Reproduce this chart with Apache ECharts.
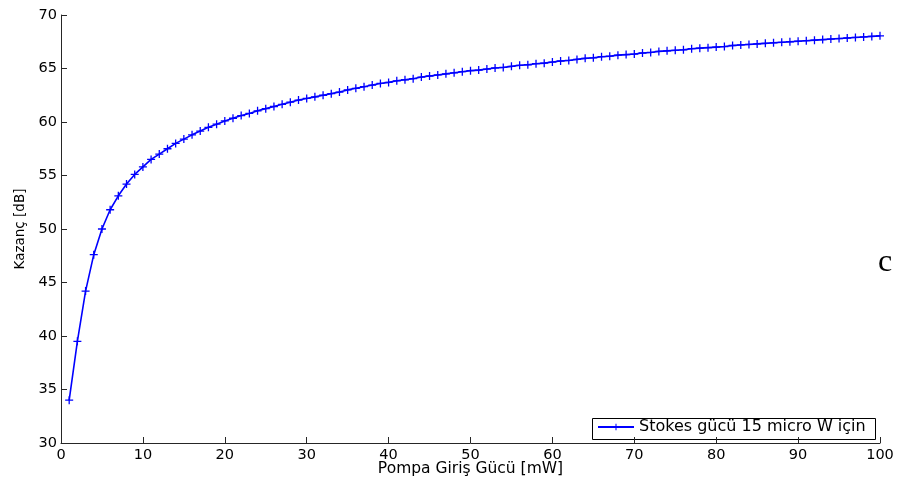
<!DOCTYPE html>
<html>
<head>
<meta charset="utf-8">
<title>Kazanç - Pompa Giriş Gücü</title>
<script src="https://cdn.jsdelivr.net/npm/echarts@6/dist/echarts.min.js"></script>
<style>
  html, body { margin: 0; padding: 0; background: #fff; }
  #chart { width: 902px; height: 482px; }
</style>
</head>
<body>
<div id="chart"></div>
<script>
// Pump input power [mW]
const pumpPower = [
  1, 2, 3, 4, 5, 6, 7, 8, 9, 10,
  11, 12, 13, 14, 15, 16, 17, 18, 19, 20,
  21, 22, 23, 24, 25, 26, 27, 28, 29, 30,
  31, 32, 33, 34, 35, 36, 37, 38, 39, 40,
  41, 42, 43, 44, 45, 46, 47, 48, 49, 50,
  51, 52, 53, 54, 55, 56, 57, 58, 59, 60,
  61, 62, 63, 64, 65, 66, 67, 68, 69, 70,
  71, 72, 73, 74, 75, 76, 77, 78, 79, 80,
  81, 82, 83, 84, 85, 86, 87, 88, 89, 90,
  91, 92, 93, 94, 95, 96, 97, 98, 99, 100
];

// Gain [dB] for a 15 µW Stokes input
const gainDb = [
  34.0, 39.5, 44.2, 47.6, 50.0, 51.8, 53.1, 54.2, 55.1, 55.8,
  56.5, 57.0, 57.5, 58.0, 58.4, 58.8, 59.15, 59.5, 59.8, 60.1,
  60.35, 60.6, 60.8, 61.05, 61.25, 61.45, 61.65, 61.85, 62.05, 62.2,
  62.35, 62.5, 62.65, 62.8, 63.0, 63.15, 63.3, 63.45, 63.6, 63.7,
  63.85, 63.95, 64.05, 64.2, 64.3, 64.4, 64.5, 64.6, 64.7, 64.8,
  64.85, 64.95, 65.05, 65.1, 65.2, 65.3, 65.35, 65.45, 65.5, 65.6,
  65.7, 65.75, 65.85, 65.95, 66.0, 66.1, 66.15, 66.25, 66.3, 66.35,
  66.45, 66.5, 66.6, 66.65, 66.7, 66.75, 66.85, 66.9, 66.95, 67.0,
  67.05, 67.15, 67.2, 67.25, 67.3, 67.35, 67.4, 67.45, 67.5, 67.55,
  67.6, 67.65, 67.7, 67.75, 67.8, 67.85, 67.9, 67.95, 68.0, 68.05
];

const seriesName = 'Stokes gücü 15 micro W için';
const xTicks = [0, 10, 20, 30, 40, 50, 60, 70, 80, 90, 100];
const yTicks = [30, 35, 40, 45, 50, 55, 60, 65, 70];

const fontFamily = '"DejaVu Sans", Verdana, sans-serif';
const axisColor = '#262626';
// thin "+" marker
const plusPath = 'path://M4.2,0h1.6v4.2h4.2v1.6h-4.2v4.2h-1.6v-4.2h-4.2v-1.6h4.2z';

const chart = echarts.init(document.getElementById('chart'), null, { renderer: 'canvas' });

chart.setOption({
  backgroundColor: '#ffffff',
  animation: false,
  grid: { left: 61, right: 22, top: 15, bottom: 39, containLabel: false, outerBoundsMode: 'none' },
  xAxis: {
    type: 'value',
    min: xTicks[0],
    max: xTicks[xTicks.length - 1],
    interval: xTicks[1] - xTicks[0],
    name: 'Pompa Giriş Gücü [mW]',
    nameLocation: 'middle',
    nameGap: 18,
    nameMoveOverlap: false,
    nameTextStyle: { fontFamily, fontSize: 15.5, color: '#000', verticalAlign: 'top' },
    axisLine: { show: true, lineStyle: { color: axisColor, width: 1 } },
    axisTick: { show: true, inside: true, length: 6, lineStyle: { color: axisColor } },
    axisLabel: { fontFamily, fontSize: 14.5, color: '#000', margin: 5 },
    splitLine: { show: false }
  },
  yAxis: {
    type: 'value',
    min: yTicks[0],
    max: yTicks[yTicks.length - 1],
    interval: yTicks[1] - yTicks[0],
    name: 'Kazanç [dB]',
    nameLocation: 'middle',
    nameGap: 34,
    nameMoveOverlap: false,
    nameRotate: 90,
    nameTextStyle: { fontFamily, fontSize: 13.5, color: '#000' },
    axisLine: { show: true, lineStyle: { color: axisColor, width: 1 } },
    axisTick: { show: true, inside: true, length: 6, lineStyle: { color: axisColor } },
    axisLabel: { fontFamily, fontSize: 14.5, color: '#000', margin: 4 },
    splitLine: { show: false }
  },
  legend: {
    show: true,
    left: 597,
    top: 419,
    orient: 'horizontal',
    padding: 0,
    itemWidth: 36,
    itemHeight: 8,
    itemGap: 4,
    textStyle: { fontFamily, fontSize: 16, color: '#000' },
    data: [seriesName]
  },
  series: [{
    name: seriesName,
    type: 'line',
    data: pumpPower.map((p, i) => [p, gainDb[i]]),
    symbol: plusPath,
    symbolSize: 8,
    showAllSymbol: true,
    lineStyle: { color: '#0000ff', width: 1.6 },
    itemStyle: { color: '#0000ff' },
    emphasis: { disabled: true }
  }],
  graphic: [
    {
      // legend frame
      type: 'rect',
      left: 592,
      top: 418,
      z: 0,
      shape: { width: 283, height: 21 },
      style: { fill: '#fff', stroke: '#000', lineWidth: 1 }
    },
    {
      type: 'text',
      left: 878,
      top: 247,
      style: {
        text: 'c',
        font: '32px "Liberation Serif", "Times New Roman", serif',
        fill: '#000'
      }
    }
  ]
});
</script>
</body>
</html>
